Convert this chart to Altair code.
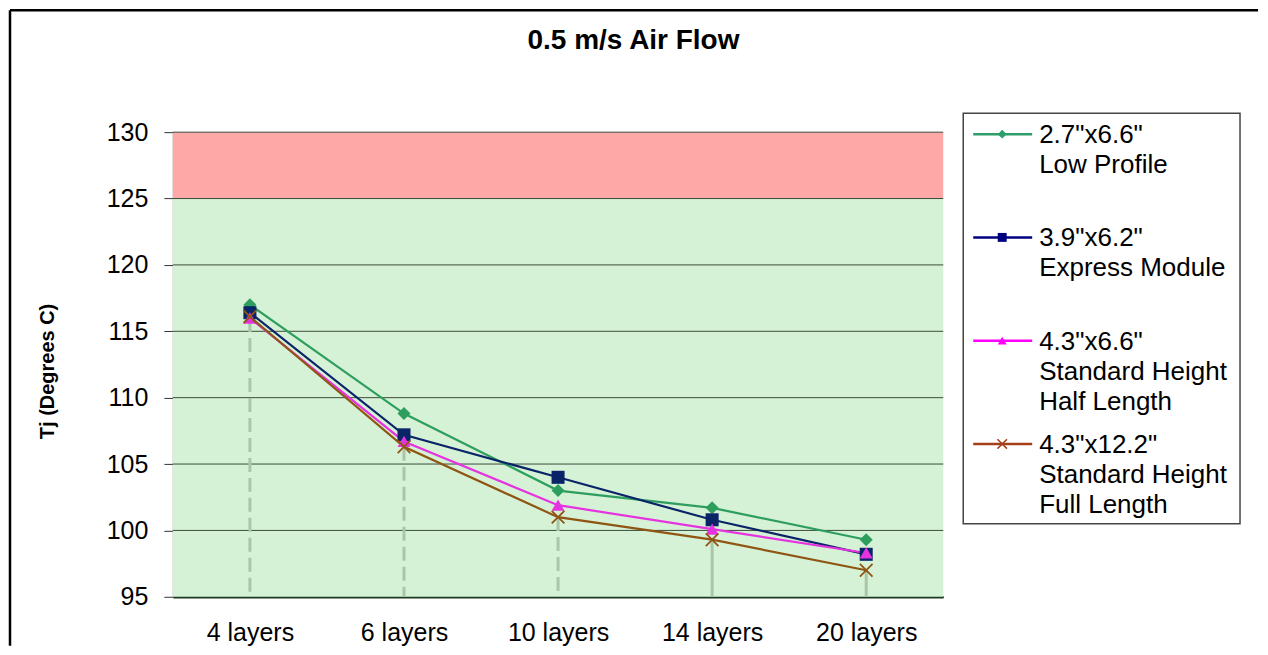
import altair as alt
import pandas as pd

# ---------------- data ----------------
categories = ["4 layers", "6 layers", "10 layers", "14 layers", "20 layers"]
series = ['2.7"x6.6" Low Profile', '3.9"x6.2" Express Module',
          '4.3"x6.6" Standard Height Half Length', '4.3"x12.2" Standard Height Full Length']
legend_lines = [['2.7"x6.6"', 'Low Profile'],
                ['3.9"x6.2"', 'Express Module'],
                ['4.3"x6.6"', 'Standard Height', 'Half Length'],
                ['4.3"x12.2"', 'Standard Height', 'Full Length']]
low_profile = [117.0, 108.8, 103.0, 101.7, 99.3]
express_module = [116.4, 107.2, 104.0, 100.8, 98.2]
std_half = [116.0, 106.7, 101.9, 100.1, 98.3]
std_full = [116.1, 106.3, 101.0, 99.3, 97.0]
values = [low_profile, express_module, std_half, std_full]

y_ticks = [95, 100, 105, 110, 115, 120, 125, 130]
grid_ticks = [100, 105, 110, 115, 120, 125, 130]
band_names = ["limit", "safe"]
band_lo = [125, 95]
band_hi = [130, 125]
title_text = "0.5 m/s Air Flow"
y_title = "Tj (Degrees C)"

# ---------------- tables ----------------
rows = []
for s, vals in zip(series, values):
    for c, v in zip(categories, vals):
        rows.append({"series": s, "layers": c, "value": v})
df = pd.DataFrame(rows)
bands = pd.DataFrame({"band": band_names, "lo": band_lo, "hi": band_hi})
grid = pd.DataFrame({"tick": grid_ticks})
leg = pd.DataFrame({"series": series, "label": ["\n".join(l) for l in legend_lines]})
one = pd.DataFrame({"t": [title_text]})

W, H = 771, 465
FONT = "Liberation Sans"
line_colors = ["#2E9E5E", "#0A2468", "#E633E0", "#8F5512"]
leg_colors = ["#2E9E6B", "#000080", "#FF00FF", "#A3401A"]
band_colors = ["#FFA8A8", "#D6F2D6"]
shapes = ["diamond", "square", "triangle-up", "M-1,-1L1,1M-1,1L1,-1"]

xenc = alt.X("layers:N", sort=categories, scale=alt.Scale(type="point", padding=0.5),
             axis=alt.Axis(title=None, ticks=False, labelAngle=0, labelFontSize=25,
                           labelFont=FONT, labelColor="black", labelPadding=24,
                           labelBaseline="top", domainColor="#1E3A1E", domainWidth=2.5))
yscale = alt.Scale(domain=[95, 130], nice=False, zero=False)
yaxis = alt.Axis(values=y_ticks, title=y_title, titleFont=FONT, titleFontSize=20,
                 titleFontWeight="bold", titleColor="black", titleX=-125, titleY=239,
                 titleAngle=-90, titleBaseline="middle", titleAlign="center",
                 labelFont=FONT, labelFontSize=25, labelColor="black", labelPadding=16,
                 tickSize=9, tickColor="#333333", domainColor="#2F4A2F", grid=False)

band_red = alt.Chart(bands).transform_filter(
    alt.FieldEqualPredicate(field="band", equal=band_names[0])
).mark_rect(color=band_colors[0]).encode(
    x=alt.value(0), x2=alt.value(W),
    y=alt.Y("lo:Q", scale=yscale, axis=yaxis), y2="hi:Q")
band_green = alt.Chart(bands).transform_filter(
    alt.FieldEqualPredicate(field="band", equal=band_names[1])
).mark_rect(color=band_colors[1]).encode(
    x=alt.value(0), x2=alt.value(W),
    y=alt.Y("lo:Q", scale=yscale), y2="hi:Q")

grid_layer = alt.Chart(grid).mark_rule(color="#3A4A3A", strokeWidth=1).encode(
    x=alt.value(0), x2=alt.value(W), y=alt.Y("tick:Q", scale=yscale))

base = alt.Chart(df)
drop_dash = base.transform_aggregate(lo="min(value)", groupby=["layers"]).transform_filter(
    alt.FieldOneOfPredicate(field="layers", oneOf=categories[:3])
).mark_rule(color="#A9C6A9", strokeWidth=3, strokeDash=[14, 6]).encode(
    x=xenc, y=alt.Y("lo:Q", scale=yscale), y2=alt.datum(95))
drop_solid = base.transform_aggregate(lo="min(value)", groupby=["layers"]).transform_filter(
    alt.FieldOneOfPredicate(field="layers", oneOf=categories[3:])
).mark_rule(color="#A9C6A9", strokeWidth=3).encode(
    x=xenc, y=alt.Y("lo:Q", scale=yscale), y2=alt.datum(95))

cscale = alt.Scale(domain=series, range=line_colors)
lines = base.mark_line(strokeWidth=2.2).encode(
    x=xenc, y=alt.Y("value:Q", scale=yscale),
    color=alt.Color("series:N", scale=cscale, legend=None),
    order=alt.Order("series:N"))
pts = base.transform_filter(
    alt.FieldOneOfPredicate(field="series", oneOf=series[:3])
).mark_point(filled=True, opacity=1, size=170).encode(
    x=xenc, y=alt.Y("value:Q", scale=yscale),
    color=alt.Color("series:N", scale=cscale, legend=None),
    shape=alt.Shape("series:N", scale=alt.Scale(domain=series, range=shapes), legend=None))
xpts = base.transform_filter(
    alt.FieldEqualPredicate(field="series", equal=series[3])
).mark_point(filled=False, opacity=1, size=160, strokeWidth=1.8, color=line_colors[3],
             shape=shapes[3]).encode(
    x=xenc, y=alt.Y("value:Q", scale=yscale))

main = alt.layer(band_red, band_green, grid_layer, drop_dash, drop_solid, lines, pts, xpts)

# ---------------- legend + decorations ----------------
lscale = alt.Scale(type="point", domain=series, range=[2, 312], padding=0)
lcol = alt.Color("series:N", scale=alt.Scale(domain=series, range=leg_colors), legend=None)
box = alt.Chart(one).mark_rect(fill="white", stroke="#444444", strokeWidth=1.5).encode(
    x=alt.value(791), x2=alt.value(1068), y=alt.value(-19), y2=alt.value(392))
leg_line = alt.Chart(leg).mark_rule(strokeWidth=2.5).encode(
    x=alt.value(801), x2=alt.value(860), y=alt.Y("series:N", scale=lscale, axis=None), color=lcol)
leg_pts = alt.Chart(leg).transform_filter(
    alt.FieldOneOfPredicate(field="series", oneOf=series[:3])
).mark_point(filled=True, opacity=1, size=80).encode(
    x=alt.value(830), y=alt.Y("series:N", scale=lscale, axis=None), color=lcol,
    shape=alt.Shape("series:N", scale=alt.Scale(domain=series, range=shapes), legend=None))
leg_x = alt.Chart(leg).transform_filter(
    alt.FieldEqualPredicate(field="series", equal=series[3])
).mark_point(filled=False, opacity=1, size=90, strokeWidth=1.5, color=leg_colors[3],
             shape=shapes[3]).encode(
    x=alt.value(830), y=alt.Y("series:N", scale=lscale, axis=None))
leg_text = alt.Chart(leg).mark_text(align="left", baseline="alphabetic", dy=9, lineBreak="\n",
                                    lineHeight=30, font=FONT, fontSize=26, color="black").encode(
    x=alt.value(867), y=alt.Y("series:N", scale=lscale, axis=None), text="label:N")
title = alt.Chart(one).mark_text(font=FONT, fontSize=28, fontWeight="bold", color="black",
                                 align="center", baseline="middle").encode(
    x=alt.value(461), y=alt.value(-91), text="t:N")
frame_top = alt.Chart(one).mark_rule(color="black", strokeWidth=2.5).encode(
    x=alt.value(-163), x2=alt.value(1086), y=alt.value(-122))
frame_left = alt.Chart(one).mark_rule(color="black", strokeWidth=2.5).encode(
    x=alt.value(-163), y=alt.value(-122), y2=alt.value(514))

legend_group = alt.layer(box, leg_line, leg_pts, leg_x, leg_text, title, frame_top, frame_left)

chart = alt.layer(main, legend_group).resolve_scale(
    y="independent", color="independent", shape="independent"
).properties(width=W, height=H, padding=0, background="white").configure_view(stroke=None)

chart.save("out.html", embed_options={"renderer": "svg", "actions": False})
